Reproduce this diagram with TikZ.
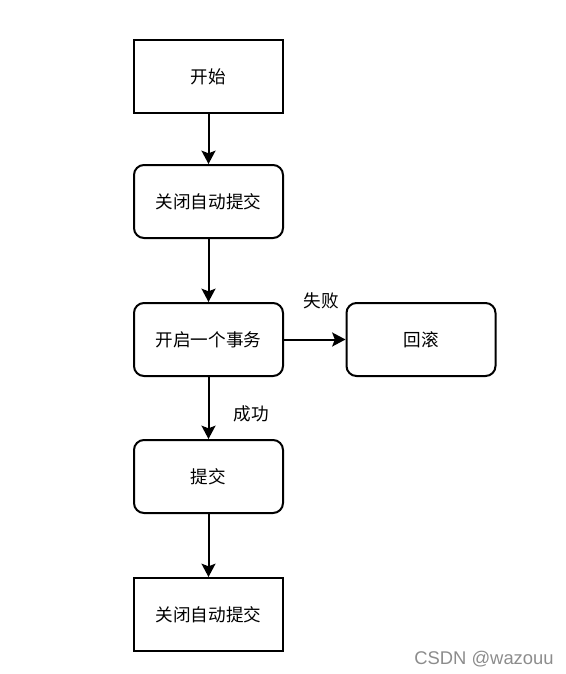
\documentclass[tikz,border=0pt]{standalone}
\usepackage{fontspec}
\setmainfont{Noto Sans CJK SC}
\newfontfamily\marksans{Liberation Sans}
\usetikzlibrary{arrows.meta}

\tikzset{
  box/.style={draw, line width=1.5pt, minimum width=111.75pt, minimum height=54.75pt, inner sep=0pt, font=\fontsize{13.2}{15}\selectfont},
  roundbox/.style={box, rounded corners=7.5pt},
  flow/.style={line width=1.5pt, -{Stealth[length=10pt,width=10.5pt,inset=2pt]}},
  tag/.style={inner sep=0.75pt, font=\fontsize{13.2}{15}\selectfont}
}

\begin{document}
\begin{tikzpicture}[x=0.75pt,y=0.75pt,yscale=-1,xscale=1]
%set diagram left start at 0, and has height of 674
\useasboundingbox (0,0) rectangle (566,674);

%Shape: Rectangle [start]
\node [box] (start) at (208.5,76.5) {开始};
%Shape: Rounded Rect [autooff]
\node [roundbox] (autooff) at (208.5,201.5) {关闭自动提交};
%Shape: Rounded Rect [begin]
\node [roundbox] (begin) at (208.5,339.5) {开启一个事务};
%Shape: Rounded Rect [rollback]
\node [roundbox] (rollback) at (421,339.5) {回滚};
%Shape: Rounded Rect [commit]
\node [roundbox] (commit) at (208.5,476.5) {提交};
%Shape: Rectangle [autoon]
\node [box] (autoon) at (208.5,614.5) {关闭自动提交};

%Straight Lines
\draw [flow] (start) -- (autooff);
\draw [flow] (autooff) -- (begin);
\draw [flow] (begin) -- (rollback);
\draw [flow] (begin) -- (commit);
\draw [flow] (commit) -- (autoon);

% Text Node
\node [tag] (fail) at (321,301) {失败};
% Text Node
\node [tag] (ok) at (251,414) {成功};
% Text Node
\node [inner sep=0pt, text=black!45, font=\marksans\fontsize{13.8}{15}\selectfont] (mark) at (484,659) {CSDN @wazouu};

\end{tikzpicture}
\end{document}
